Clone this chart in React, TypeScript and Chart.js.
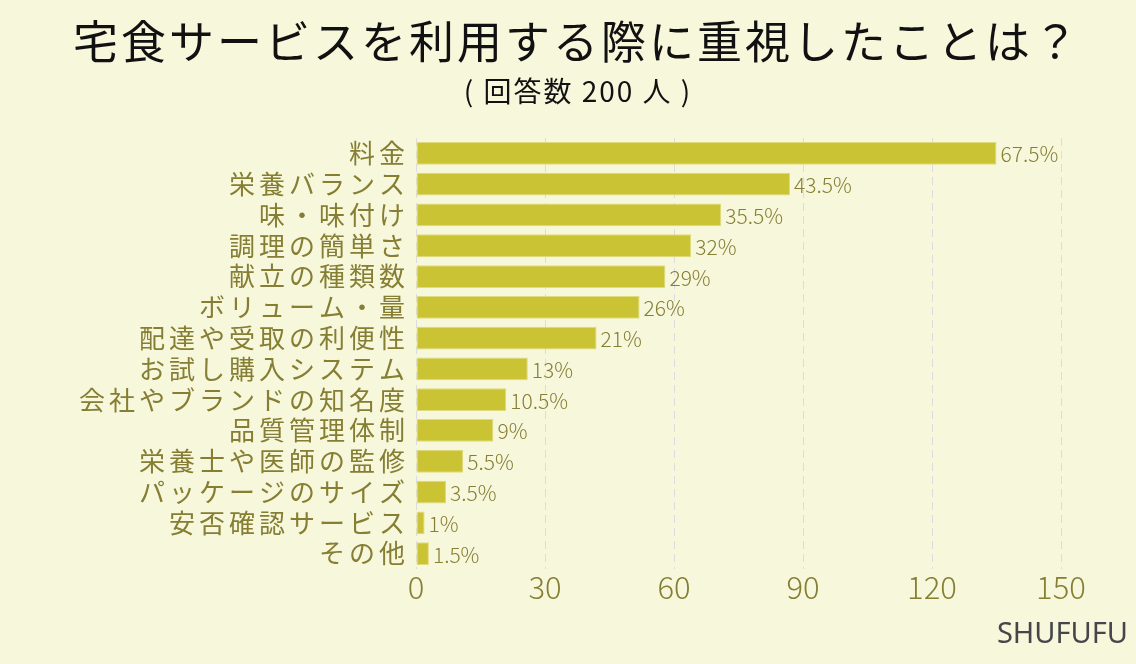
import React, { useEffect, useRef } from "react";
import { Chart, registerables } from "chart.js";

Chart.register(...registerables);

const TITLE = "宅食サービスを利用する際に重視したことは？";
const SUBTITLE = "( 回答数 200 人 )";
const SOURCE = "SHUFUFU";

const categories = [
  "料金",
  "栄養バランス",
  "味・味付け",
  "調理の簡単さ",
  "献立の種類数",
  "ボリューム・量",
  "配達や受取の利便性",
  "お試し購入システム",
  "会社やブランドの知名度",
  "品質管理体制",
  "栄養士や医師の監修",
  "パッケージのサイズ",
  "安否確認サービス",
  "その他",
];

// number of respondents (out of 200)
const counts = [135, 87, 71, 64, 58, 52, 42, 26, 21, 18, 11, 7, 2, 3];

const percentLabels = [
  "67.5%",
  "43.5%",
  "35.5%",
  "32%",
  "29%",
  "26%",
  "21%",
  "13%",
  "10.5%",
  "9%",
  "5.5%",
  "3.5%",
  "1%",
  "1.5%",
];

const xTicks = [0, 30, 60, 90, 120, 150];

const BG = "#F7F7DC";
const BAR = "#CAC434";
const BAR_EDGE = "#E0DB7E";
const TEXT = "#857E33";
const FONT = '"Noto Sans CJK JP", "Noto Sans", sans-serif';

const drawPlugin = {
  id: "customDraw",
  beforeDraw(chart: any) {
    const { ctx, width, height } = chart;
    ctx.save();
    ctx.fillStyle = BG;
    ctx.fillRect(0, 0, width, height);
    ctx.restore();
  },
  afterDraw(chart: any) {
    const { ctx } = chart;
    const xs = chart.scales.x;
    const ys = chart.scales.y;
    ctx.save();

    // title
    ctx.fillStyle = "#111111";
    ctx.textAlign = "center";
    ctx.textBaseline = "middle";
    ctx.font = `45px ${FONT}`;
    (ctx as any).letterSpacing = "3px";
    ctx.fillText(TITLE, 577, 42);

    // subtitle
    ctx.font = `28px ${FONT}`;
    (ctx as any).letterSpacing = "2px";
    ctx.fillText(SUBTITLE, 578, 91);

    // category labels
    ctx.fillStyle = TEXT;
    ctx.textAlign = "right";
    ctx.font = `26px ${FONT}`;
    (ctx as any).letterSpacing = "4px";
    categories.forEach((c, i) => {
      const y = ys.getPixelForValue(i);
      ctx.fillText(c, 405 + 4, y);
    });

    // value labels
    (ctx as any).letterSpacing = "0px";
    ctx.textAlign = "left";
    ctx.font = `300 21px ${FONT}`;
    counts.forEach((v, i) => {
      const x = xs.getPixelForValue(v);
      const y = ys.getPixelForValue(i);
      ctx.fillText(percentLabels[i], x + 4, y + 1);
    });

    // source
    ctx.fillStyle = "#46464A";
    ctx.textAlign = "right";
    ctx.textBaseline = "alphabetic";
    ctx.font = `29px "Noto Sans", sans-serif`;
    ctx.fillText(SOURCE, 1128, 643);

    ctx.restore();
  },
};

export default function App() {
  const ref = useRef<HTMLCanvasElement | null>(null);

  useEffect(() => {
    if (!ref.current) return;
    const chart = new Chart(ref.current, {
      type: "bar",
      data: {
        labels: categories,
        datasets: [
          {
            data: counts,
            backgroundColor: BAR,
            borderColor: BAR_EDGE,
            borderWidth: 1,
            borderSkipped: false,
            categoryPercentage: 0.74,
            barPercentage: 1,
          },
        ],
      },
      options: {
        indexAxis: "y",
        responsive: false,
        animation: false,
        layout: { padding: { top: 138, bottom: 55, left: 0, right: 75 } },
        plugins: {
          legend: { display: false },
          tooltip: { enabled: false },
          title: { display: false },
        },
        scales: {
          x: {
            min: 0,
            max: 150,
            afterBuildTicks: (scale: any) => {
              scale.ticks = xTicks.map((v) => ({ value: v }));
            },
            afterFit: (scale: any) => {
              scale.height = 40;
            },
            ticks: {
              color: TEXT,
              font: { family: FONT, size: 31, weight: "300" as any },
              padding: 0,
              maxRotation: 0,
            },
            grid: {
              color: "#DCDCE0",
              lineWidth: 1,
              drawTicks: false,
            },
            border: { display: false, dash: [8, 5] },
          },
          y: {
            afterFit: (scale: any) => {
              scale.width = 416;
            },
            ticks: { display: false },
            grid: { display: false },
            border: { display: false },
          },
        },
      },
      plugins: [drawPlugin],
    });
    return () => chart.destroy();
  }, []);

  return (
    <div style={{ position: "fixed", left: 0, top: 0, width: 1136, height: 664, background: BG }}>
      <canvas ref={ref} width={1136} height={664} style={{ display: "block" }} />
    </div>
  );
}
